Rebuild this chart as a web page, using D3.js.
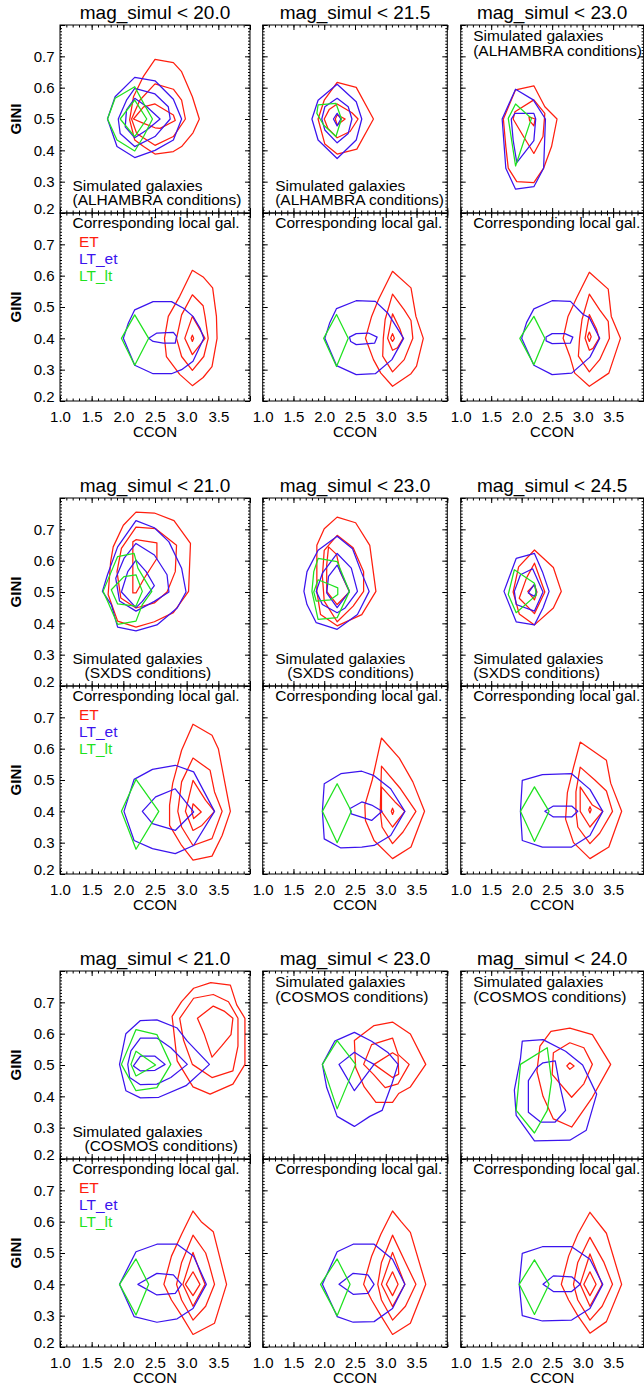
<!DOCTYPE html>
<html><head><meta charset="utf-8">
<script src="https://cdn.jsdelivr.net/npm/d3@7"></script>
<style>body{margin:0;background:#fff}</style>
</head><body><svg id="c" width="644" height="1388"></svg>
<script>
// ---------------- DATA ----------------
const classes = ["ET","LT_et","LT_lt"];
const xTickValues = [1.0,1.5,2.0,2.5,3.0,3.5,4.0];
const xTickLabels = ["1.0","1.5","2.0","2.5","3.0","3.5",""];
const yTickValues = [0.2,0.3,0.4,0.5,0.6,0.7,0.8];
const yTickLabels = ["0.2","0.3","0.4","0.5","0.6","0.7",""];
const surveys = ["ALHAMBRA","SXDS","COSMOS"];
const magLimits = [["20.0","21.5","23.0"],["21.0","23.0","24.5"],["21.0","23.0","24.0"]];

// ALHAMBRA, mag < 20.0
const alh20_sim_ET = [
 [[2.5,0.69],[2.79,0.68],[2.92,0.651],[3.09,0.571],[3.2,0.5],[3.1,0.456],[2.92,0.412],[2.79,0.396],[2.5,0.388],[2.32,0.412],[2.18,0.433],[2.1,0.497],[2.16,0.571],[2.32,0.637]],
 [[2.5,0.612],[2.79,0.595],[2.92,0.56],[2.98,0.5],[2.79,0.444],[2.5,0.416],[2.21,0.454],[2.13,0.5],[2.26,0.56]],
 [[2.5,0.548],[2.79,0.513],[2.82,0.495],[2.58,0.47],[2.5,0.472],[2.32,0.486],[2.16,0.5],[2.32,0.539]]];
const alh20_sim_LTet = [
 [[2.18,0.633],[2.5,0.622],[2.79,0.563],[2.92,0.5],[2.79,0.433],[2.5,0.4],[2.18,0.377],[1.9,0.412],[1.75,0.5],[1.87,0.571]],
 [[2.18,0.598],[2.5,0.58],[2.71,0.539],[2.74,0.5],[2.5,0.444],[2.18,0.412],[1.95,0.454],[1.92,0.5],[2.05,0.56]],
 [[2.18,0.566],[2.37,0.539],[2.58,0.5],[2.37,0.465],[2.18,0.44],[2.03,0.475],[2.05,0.529]]];
const alh20_sim_LTlt = [
 [[2.18,0.603],[2.32,0.55],[2.46,0.5],[2.32,0.444],[2.18,0.398],[1.9,0.433],[1.75,0.5],[1.87,0.566]],
 [[2.18,0.56],[2.37,0.5],[2.18,0.444],[1.95,0.5]]];
const alh20_loc_ET = [
 [[3.09,0.617],[3.26,0.596],[3.41,0.561],[3.47,0.47],[3.48,0.4],[3.4,0.31],[3.26,0.275],[3.09,0.249],[2.89,0.285],[2.68,0.342],[2.65,0.4],[2.71,0.47],[2.89,0.534]],
 [[3.09,0.539],[3.26,0.504],[3.29,0.47],[3.34,0.4],[3.27,0.342],[3.09,0.298],[2.92,0.342],[2.84,0.4],[2.92,0.475]],
 [[3.09,0.47],[3.29,0.4],[3.09,0.348],[2.97,0.4]],
 [[3.09,0.41],[3.11,0.4],[3.09,0.39],[3.07,0.4]]];
const alh20_loc_LTet = [
 [[2.18,0.491],[2.47,0.517],[2.76,0.517],[2.95,0.496],[3.1,0.47],[3.21,0.433],[3.27,0.4],[3.1,0.327],[2.92,0.3],[2.76,0.287],[2.47,0.287],[2.18,0.314],[2.0,0.4],[2.08,0.449]],
 [[2.4,0.4],[2.53,0.417],[2.79,0.419],[2.84,0.406],[2.82,0.385],[2.63,0.385],[2.47,0.39]]];
const alh20_loc_LTlt = [
 [[2.18,0.475],[2.4,0.4],[2.18,0.314],[1.97,0.4]]];

// ALHAMBRA, mag < 21.5
const alh215_sim_ET = [
 [[2.21,0.617],[2.52,0.601],[2.8,0.5],[2.53,0.404],[2.21,0.388],[2.01,0.42],[1.9,0.5],[2.0,0.56]],
 [[2.21,0.548],[2.45,0.52],[2.55,0.5],[2.42,0.46],[2.21,0.44],[2.06,0.47],[2.0,0.5],[2.08,0.53]],
 [[2.21,0.513],[2.34,0.5],[2.21,0.481],[2.18,0.5]]];
const alh215_sim_LTet = [
 [[2.21,0.611],[2.52,0.555],[2.61,0.5],[2.52,0.433],[2.21,0.374],[1.9,0.433],[1.8,0.5],[1.9,0.56]],
 [[2.21,0.566],[2.39,0.539],[2.45,0.5],[2.39,0.454],[2.21,0.424],[2.01,0.465],[1.96,0.5],[2.01,0.539]],
 [[2.21,0.518],[2.27,0.5],[2.21,0.478],[2.15,0.5]]];
const alh215_sim_LTlt = [
 [[1.9,0.545],[2.19,0.55],[2.28,0.5],[2.19,0.444],[1.99,0.481],[1.88,0.518]]];
const alh215_loc_ET = [
 [[3.11,0.614],[3.41,0.561],[3.49,0.47],[3.61,0.4],[3.5,0.311],[3.41,0.287],[3.11,0.247],[2.92,0.289],[2.8,0.332],[2.67,0.4],[2.77,0.47],[2.88,0.523]],
 [[3.11,0.541],[3.3,0.491],[3.41,0.457],[3.44,0.4],[3.3,0.332],[3.11,0.293],[2.95,0.343],[2.96,0.4],[2.99,0.46]],
 [[3.11,0.478],[3.23,0.43],[3.28,0.4],[3.19,0.37],[3.11,0.362],[3.03,0.4]],
 [[3.11,0.415],[3.14,0.4],[3.11,0.39],[3.08,0.4]]];
const alh215_loc_LTet = [
 [[2.2,0.495],[2.52,0.52],[2.83,0.518],[3.03,0.481],[3.29,0.4],[3.1,0.332],[2.83,0.287],[2.52,0.284],[2.2,0.313],[2.01,0.4],[2.09,0.45]],
 [[2.41,0.404],[2.52,0.415],[2.72,0.417],[2.86,0.404],[2.82,0.385],[2.52,0.38],[2.43,0.39]]];
const alh215_loc_LTlt = [
 [[2.2,0.476],[2.39,0.4],[2.2,0.31],[1.99,0.4]]];

// ALHAMBRA, mag < 23.0
const alh23_sim_ET = [
 [[1.9,0.593],[2.2,0.606],[2.38,0.539],[2.58,0.5],[2.49,0.412],[2.36,0.343],[2.2,0.297],[1.92,0.3],[1.78,0.343],[1.74,0.412],[1.7,0.5]],
 [[1.89,0.523],[2.2,0.561],[2.38,0.518],[2.35,0.444],[2.2,0.39],[2.03,0.444],[1.86,0.5]],
 [[2.12,0.507],[2.22,0.5],[2.2,0.478],[2.13,0.495]]];
const alh23_sim_LTet = [
 [[1.9,0.595],[2.19,0.561],[2.39,0.5],[2.36,0.343],[2.2,0.284],[1.9,0.276],[1.74,0.343],[1.68,0.5]],
 [[1.89,0.518],[2.2,0.518],[2.23,0.5],[2.2,0.431],[1.92,0.361],[1.86,0.433],[1.83,0.5]]];
const alh23_sim_LTlt = [
 [[1.9,0.548],[2.16,0.502],[1.9,0.35],[1.78,0.502]]];
const alh23_loc_ET = [
 [[3.11,0.611],[3.42,0.557],[3.47,0.47],[3.62,0.4],[3.43,0.289],[3.11,0.247],[2.87,0.289],[2.79,0.343],[2.68,0.4],[2.76,0.47],[2.9,0.529]],
 [[3.11,0.541],[3.28,0.491],[3.42,0.454],[3.44,0.4],[3.28,0.332],[3.11,0.293],[2.93,0.343],[2.95,0.4],[2.99,0.46]],
 [[3.11,0.476],[3.23,0.428],[3.27,0.4],[3.17,0.368],[3.11,0.362],[3.04,0.4]],
 [[3.11,0.42],[3.14,0.405],[3.11,0.39],[3.08,0.405]]];
const alh23_loc_LTet = [
 [[2.2,0.494],[2.5,0.52],[2.8,0.518],[3.01,0.476],[3.11,0.466],[3.28,0.4],[3.12,0.34],[2.82,0.289],[2.5,0.284],[2.2,0.314],[2.0,0.4],[2.08,0.45]],
 [[2.4,0.404],[2.5,0.415],[2.71,0.415],[2.84,0.404],[2.8,0.385],[2.5,0.383],[2.4,0.392]]];
const alh23_loc_LTlt = [
 [[2.2,0.47],[2.38,0.4],[2.2,0.316],[1.97,0.4]]];

// SXDS, mag < 21.0
const sx21_sim_ET = [
 [[2.2,0.755],[2.49,0.752],[2.8,0.728],[3.06,0.655],[3.03,0.502],[2.79,0.434],[2.49,0.405],[2.2,0.388],[1.91,0.407],[1.76,0.492],[1.8,0.597],[1.84,0.644],[2.0,0.713]],
 [[2.2,0.707],[2.51,0.702],[2.84,0.649],[2.82,0.565],[2.69,0.5],[2.49,0.465],[2.2,0.449],[1.96,0.481],[1.9,0.565],[1.97,0.639]],
 [[2.2,0.667],[2.53,0.657],[2.53,0.607],[2.33,0.544],[2.2,0.497],[2.15,0.497],[2.15,0.607],[2.15,0.66]]];
const sx21_sim_LTet = [
 [[2.2,0.728],[2.49,0.705],[2.72,0.66],[2.92,0.576],[2.99,0.5],[2.85,0.449],[2.53,0.395],[2.2,0.376],[1.91,0.388],[1.81,0.46],[1.67,0.502],[1.75,0.555],[1.91,0.644]],
 [[2.2,0.655],[2.49,0.618],[2.69,0.555],[2.72,0.5],[2.49,0.47],[2.2,0.439],[1.94,0.471],[1.88,0.544],[2.01,0.607]],
 [[2.2,0.602],[2.36,0.565],[2.49,0.52],[2.3,0.47],[2.2,0.45],[1.97,0.5],[2.07,0.565]]];
const sx21_sim_LTlt = [
 [[1.91,0.613],[2.17,0.623],[2.23,0.576],[2.45,0.502],[2.3,0.46],[2.2,0.407],[1.91,0.397],[1.75,0.471],[1.68,0.502],[1.81,0.565]],
 [[2.01,0.549],[2.2,0.555],[2.3,0.502],[2.2,0.455],[1.91,0.462],[1.81,0.507]]];
const sx21_loc_ET = [
 [[3.1,0.678],[3.4,0.643],[3.5,0.6],[3.69,0.4],[3.56,0.323],[3.4,0.257],[3.1,0.244],[2.92,0.291],[2.73,0.355],[2.73,0.42],[2.78,0.49],[2.92,0.595]],
 [[3.1,0.57],[3.37,0.531],[3.44,0.462],[3.56,0.4],[3.4,0.313],[3.1,0.291],[2.92,0.35],[2.86,0.4],[2.92,0.494]],
 [[3.1,0.499],[3.3,0.435],[3.44,0.4],[3.24,0.355],[3.1,0.339],[2.98,0.4]],
 [[3.1,0.424],[3.23,0.398],[3.11,0.377],[3.08,0.4]]];
const sx21_loc_LTet = [
 [[2.17,0.502],[2.46,0.534],[2.82,0.547],[3.11,0.526],[3.44,0.4],[3.11,0.291],[2.82,0.265],[2.46,0.281],[2.17,0.307],[2.01,0.4]],
 [[2.3,0.4],[2.51,0.446],[2.82,0.472],[3.11,0.398],[2.82,0.339],[2.46,0.361]]];
const sx21_loc_LTlt = [
 [[2.2,0.502],[2.56,0.4],[2.2,0.279],[1.97,0.4]]];

// SXDS, mag < 23.0
const sx23_sim_ET = [
 [[2.21,0.739],[2.51,0.721],[2.74,0.649],[2.84,0.502],[2.61,0.428],[2.21,0.392],[1.94,0.428],[1.88,0.502],[1.88,0.649],[2.0,0.702]],
 [[2.21,0.681],[2.47,0.641],[2.64,0.565],[2.64,0.502],[2.47,0.455],[2.21,0.405],[2.0,0.471],[1.97,0.55],[2.0,0.633]],
 [[2.07,0.644],[2.2,0.62],[2.26,0.565],[2.41,0.5],[2.21,0.46],[2.04,0.502],[2.04,0.586]]];
const sx23_sim_LTet = [
 [[2.21,0.678],[2.46,0.638],[2.6,0.565],[2.73,0.502],[2.54,0.428],[2.21,0.381],[1.87,0.402],[1.72,0.46],[1.67,0.502],[1.72,0.565],[1.9,0.633]],
 [[2.21,0.623],[2.44,0.576],[2.54,0.502],[2.34,0.449],[2.21,0.434],[1.97,0.46],[1.87,0.502],[1.97,0.56]],
 [[2.21,0.586],[2.41,0.502],[2.21,0.45],[2.04,0.497],[2.07,0.55]]];
const sx23_sim_LTlt = [
 [[1.9,0.607],[2.21,0.597],[2.41,0.502],[2.21,0.418],[1.9,0.413],[1.8,0.502],[1.83,0.565]],
 [[1.9,0.539],[2.1,0.523],[2.22,0.513],[2.22,0.492],[2.1,0.475],[1.87,0.471],[1.83,0.5]]];
const sx23_loc_ET = [
 [[2.93,0.634],[3.22,0.57],[3.44,0.494],[3.63,0.4],[3.41,0.286],[3.11,0.249],[2.81,0.307],[2.67,0.371],[2.66,0.42],[2.78,0.5]],
 [[2.93,0.544],[3.24,0.472],[3.49,0.4],[3.28,0.334],[3.11,0.297],[2.94,0.35],[2.91,0.4]],
 [[2.93,0.478],[3.15,0.43],[3.31,0.4],[3.11,0.35],[2.93,0.4]],
 [[3.11,0.41],[3.13,0.4],[3.11,0.39],[3.09,0.4]]];
const sx23_loc_LTet = [
 [[2.0,0.488],[2.27,0.52],[2.61,0.528],[2.8,0.515],[3.08,0.472],[3.31,0.4],[3.08,0.323],[2.81,0.291],[2.61,0.286],[2.27,0.283],[2.0,0.312],[1.97,0.4]],
 [[2.42,0.409],[2.61,0.43],[2.77,0.42],[2.94,0.4],[2.77,0.371],[2.44,0.392]]];
const sx23_loc_LTlt = [
 [[2.21,0.488],[2.44,0.4],[2.21,0.3],[1.97,0.4]]];

// SXDS, mag < 24.5
const sx245_sim_ET = [
 [[2.21,0.634],[2.52,0.578],[2.65,0.502],[2.52,0.449],[2.21,0.395],[1.96,0.43],[1.86,0.5],[1.95,0.58]],
 [[2.21,0.592],[2.38,0.5],[2.21,0.431],[1.96,0.48],[2.08,0.545]],
 [[2.1,0.502],[2.21,0.523],[2.25,0.5],[2.21,0.475]]];
const sx245_sim_LTet = [
 [[1.91,0.607],[2.21,0.623],[2.34,0.565],[2.45,0.502],[2.35,0.449],[2.21,0.395],[1.91,0.405],[1.71,0.502]],
 [[2.18,0.574],[2.35,0.5],[2.21,0.439],[1.91,0.46],[1.88,0.502],[1.98,0.555]],
 [[2.21,0.525],[2.24,0.5],[2.21,0.486],[2.11,0.497]]];
const sx245_sim_LTlt = [
 [[1.88,0.571],[2.21,0.528],[2.24,0.49],[1.91,0.434],[1.78,0.492]]];
const sx245_loc_ET = [
 [[2.96,0.621],[3.39,0.563],[3.46,0.49],[3.64,0.4],[3.43,0.286],[3.12,0.249],[2.85,0.3],[2.72,0.375],[2.75,0.46],[2.85,0.54]],
 [[2.96,0.541],[3.2,0.5],[3.39,0.465],[3.49,0.4],[3.28,0.33],[3.12,0.297],[2.92,0.35],[2.89,0.4],[2.89,0.462]],
 [[2.96,0.478],[3.16,0.42],[3.33,0.4],[3.12,0.35],[2.96,0.4]],
 [[3.12,0.415],[3.14,0.405],[3.12,0.395],[3.1,0.405]]];
const sx245_loc_LTet = [
 [[2.01,0.499],[2.34,0.517],[2.82,0.52],[3.12,0.47],[3.33,0.4],[3.12,0.323],[2.82,0.286],[2.34,0.286],[2.01,0.307],[1.98,0.4]],
 [[2.38,0.4],[2.52,0.417],[2.82,0.417],[2.92,0.4],[2.82,0.382],[2.52,0.382]]];
const sx245_loc_LTlt = [
 [[2.21,0.478],[2.45,0.4],[2.21,0.304],[1.98,0.4]]];

// COSMOS, mag < 21.0
const co21_sim_ET = [
 [[3.11,0.745],[3.38,0.763],[3.69,0.755],[3.79,0.692],[3.92,0.649],[3.92,0.502],[3.73,0.439],[3.37,0.407],[3.1,0.43],[2.85,0.513],[2.77,0.655],[2.92,0.702]],
 [[3.11,0.713],[3.42,0.725],[3.66,0.702],[3.81,0.649],[3.81,0.56],[3.73,0.481],[3.4,0.46],[3.09,0.502],[2.95,0.58],[2.89,0.649]],
 [[3.17,0.649],[3.42,0.688],[3.6,0.671],[3.73,0.649],[3.7,0.597],[3.55,0.56],[3.4,0.525],[3.28,0.597]]];
const co21_sim_LTet = [
 [[2.27,0.642],[2.53,0.644],[2.85,0.618],[3.01,0.576],[3.36,0.502],[2.99,0.434],[2.56,0.397],[2.27,0.395],[2.04,0.418],[1.94,0.502],[2.04,0.6]],
 [[2.27,0.586],[2.53,0.586],[2.75,0.555],[3.01,0.502],[2.75,0.46],[2.53,0.439],[2.27,0.437],[2.1,0.46],[2.07,0.502],[2.12,0.545]],
 [[2.27,0.528],[2.5,0.528],[2.66,0.502],[2.5,0.483],[2.27,0.481],[2.16,0.497]]];
const co21_sim_LTlt = [
 [[2.2,0.613],[2.53,0.597],[2.75,0.502],[2.53,0.428],[2.2,0.418],[1.97,0.502]],
 [[2.2,0.544],[2.51,0.5],[2.2,0.465],[2.12,0.502]]];
const co21_loc_ET = [
 [[3.1,0.634],[3.23,0.6],[3.42,0.568],[3.63,0.4],[3.44,0.276],[3.1,0.24],[2.92,0.3],[2.76,0.35],[2.64,0.4],[2.76,0.49],[2.92,0.56]],
 [[3.1,0.557],[3.3,0.5],[3.35,0.467],[3.44,0.4],[3.3,0.33],[3.1,0.286],[2.92,0.35],[2.84,0.4],[2.92,0.47]],
 [[3.1,0.502],[3.21,0.44],[3.29,0.4],[3.1,0.33],[2.94,0.4]],
 [[3.1,0.44],[3.21,0.4],[3.1,0.364],[2.98,0.4]]];
const co21_loc_LTet = [
 [[2.2,0.504],[2.53,0.528],[2.85,0.528],[3.11,0.49],[3.31,0.4],[3.1,0.323],[2.85,0.29],[2.53,0.279],[2.17,0.297],[1.94,0.4]],
 [[2.23,0.4],[2.53,0.435],[2.79,0.43],[2.92,0.4],[2.82,0.371],[2.53,0.366]]];
const co21_loc_LTlt = [
 [[2.2,0.481],[2.4,0.4],[2.2,0.302],[1.94,0.4]]];

// COSMOS, mag < 23.0
const co23_sim_ET = [
 [[2.49,0.578],[2.81,0.626],[3.11,0.637],[3.4,0.599],[3.65,0.502],[3.4,0.43],[3.21,0.409],[3.11,0.381],[2.84,0.381],[2.65,0.43],[2.51,0.492]],
 [[2.77,0.565],[3.11,0.586],[3.2,0.534],[3.38,0.502],[3.2,0.44],[2.99,0.428],[2.8,0.47],[2.64,0.502]],
 [[2.81,0.502],[3.11,0.539],[3.2,0.528],[3.21,0.471],[3.11,0.46]]];
const co23_sim_LTet = [
 [[2.49,0.604],[2.77,0.576],[3.04,0.539],[3.2,0.502],[3.1,0.44],[2.94,0.355],[2.74,0.336],[2.49,0.304],[2.21,0.336],[2.04,0.428],[1.97,0.502],[2.17,0.576]],
 [[2.49,0.541],[2.71,0.513],[2.81,0.502],[2.49,0.418],[2.24,0.502]]];
const co23_sim_LTlt = [
 [[2.21,0.578],[2.51,0.502],[2.21,0.36],[1.97,0.502]]];
const co23_loc_ET = [
 [[3.11,0.634],[3.25,0.6],[3.4,0.566],[3.65,0.4],[3.4,0.276],[3.11,0.24],[2.92,0.3],[2.77,0.35],[2.64,0.4],[2.77,0.49],[2.92,0.56]],
 [[3.11,0.557],[3.32,0.47],[3.49,0.4],[3.32,0.33],[3.11,0.286],[2.93,0.35],[2.87,0.4],[2.93,0.47]],
 [[3.11,0.502],[3.31,0.4],[3.11,0.329],[2.93,0.4]],
 [[3.11,0.44],[3.2,0.4],[3.11,0.364],[3.01,0.4]]];
const co23_loc_LTet = [
 [[2.21,0.504],[2.47,0.528],[2.81,0.528],[3.11,0.48],[3.31,0.4],[3.11,0.323],[2.81,0.281],[2.47,0.279],[2.21,0.297],[1.97,0.4]],
 [[2.24,0.4],[2.47,0.435],[2.71,0.43],[2.81,0.4],[2.71,0.371],[2.47,0.368]]];
const co23_loc_LTlt = [
 [[2.21,0.481],[2.42,0.4],[2.21,0.3],[1.94,0.4]]];

// COSMOS, mag < 24.0
const co24_sim_ET = [
 [[2.48,0.607],[2.79,0.618],[3.16,0.597],[3.46,0.502],[3.16,0.397],[2.82,0.302],[2.52,0.328],[2.35,0.4],[2.25,0.48],[2.3,0.56]],
 [[2.52,0.539],[2.79,0.571],[3.02,0.555],[3.16,0.502],[3.02,0.44],[2.82,0.397],[2.5,0.47]],
 [[2.79,0.507],[2.86,0.497],[2.79,0.486],[2.74,0.497]]];
const co24_sim_LTet = [
 [[2.01,0.576],[2.35,0.581],[2.72,0.544],[3.0,0.5],[3.23,0.407],[3.06,0.292],[2.79,0.26],[2.21,0.258],[1.91,0.339],[1.88,0.42],[1.98,0.52]],
 [[2.25,0.492],[2.35,0.507],[2.55,0.513],[2.62,0.44],[2.72,0.355],[2.55,0.318],[2.31,0.318],[2.11,0.349],[2.11,0.45]]];
const co24_sim_LTlt = [
 [[2.42,0.555],[2.49,0.45],[2.42,0.355],[2.21,0.283],[1.91,0.355],[1.98,0.502]]];
const co24_loc_ET = [
 [[3.12,0.63],[3.39,0.563],[3.64,0.4],[3.39,0.281],[3.12,0.244],[2.92,0.3],[2.77,0.35],[2.65,0.4],[2.77,0.49],[2.92,0.56]],
 [[3.12,0.55],[3.35,0.47],[3.49,0.4],[3.32,0.33],[3.12,0.286],[2.92,0.35],[2.85,0.4],[2.92,0.47]],
 [[3.12,0.497],[3.32,0.4],[3.12,0.33],[2.96,0.4]],
 [[3.12,0.44],[3.22,0.4],[3.12,0.364],[3.02,0.4]]];
const co24_loc_LTet = [
 [[2.01,0.499],[2.34,0.52],[2.82,0.52],[3.12,0.48],[3.33,0.4],[3.12,0.323],[2.82,0.286],[2.34,0.283],[2.01,0.3],[1.96,0.4]],
 [[2.35,0.4],[2.52,0.427],[2.82,0.424],[2.96,0.4],[2.82,0.377],[2.52,0.377]]];
const co24_loc_LTlt = [
 [[2.21,0.478],[2.45,0.4],[2.21,0.304],[1.96,0.4]]];

const simSets = [
 [[alh20_sim_ET,alh20_sim_LTet,alh20_sim_LTlt],[alh215_sim_ET,alh215_sim_LTet,alh215_sim_LTlt],[alh23_sim_ET,alh23_sim_LTet,alh23_sim_LTlt]],
 [[sx21_sim_ET,sx21_sim_LTet,sx21_sim_LTlt],[sx23_sim_ET,sx23_sim_LTet,sx23_sim_LTlt],[sx245_sim_ET,sx245_sim_LTet,sx245_sim_LTlt]],
 [[co21_sim_ET,co21_sim_LTet,co21_sim_LTlt],[co23_sim_ET,co23_sim_LTet,co23_sim_LTlt],[co24_sim_ET,co24_sim_LTet,co24_sim_LTlt]]];
const locSets = [
 [[alh20_loc_ET,alh20_loc_LTet,alh20_loc_LTlt],[alh215_loc_ET,alh215_loc_LTet,alh215_loc_LTlt],[alh23_loc_ET,alh23_loc_LTet,alh23_loc_LTlt]],
 [[sx21_loc_ET,sx21_loc_LTet,sx21_loc_LTlt],[sx23_loc_ET,sx23_loc_LTet,sx23_loc_LTlt],[sx245_loc_ET,sx245_loc_LTet,sx245_loc_LTlt]],
 [[co21_loc_ET,co21_loc_LTet,co21_loc_LTlt],[co23_loc_ET,co23_loc_LTet,co23_loc_LTlt],[co24_loc_ET,co24_loc_LTet,co24_loc_LTlt]]];

// ---------------- LAYOUT / STYLE ----------------
const simTextPos = [["bottom","bottom","top"],["bottom","bottom","bottom"],["bottom","top","top"]];
const simIndent = [[0,0,0],[12,12,0],[12,0,0]];
const colX = [[60,250],[262.7,447.3],[460.7,643.6]];
const groupTop = [25,498,971];
const PH = 188;
const FONT = "'Liberation Sans', Arial, Helvetica, sans-serif";
const COLORS = ["#ff1e0e","#3b14ee","#1fe21f"];

const svg = d3.select("#c");
const xMinor = d3.range(10,41).map(i=>i/10);
const yMinor = d3.range(20,81).map(i=>i/100);

function txt(g, x, y, s, size, extra) {
  const t = g.append("text").attr("x",x).attr("y",y).text(s)
    .attr("font-family",FONT).attr("font-size",size).attr("fill","#000");
  if (extra) extra(t);
  return t;
}

function drawPanel(x0, x1, y0, sets, showXLabels, showYLabels) {
  const y1 = y0 + PH;
  const x = d3.scaleLinear().domain([1,4]).range([x0,x1]);
  const y = d3.scaleLinear().domain([0.2,0.8]).range([y1,y0]);
  const g = svg.append("g");
  const line = d3.line().x(d=>x(d[0])).y(d=>y(d[1])).curve(d3.curveLinearClosed);
  sets.forEach((rings,ci) => {
    g.selectAll(null).data(rings).join("path")
      .attr("d", line).attr("fill","none")
      .attr("stroke", COLORS[ci]).attr("stroke-width",1.25).attr("stroke-linejoin","round");
  });
  const mk = (axis, tr) => {
    const a = g.append("g").attr("transform",tr).call(axis);
    a.select(".domain").remove();
    a.selectAll(".tick line").attr("stroke","#000");
    a.attr("font-family",FONT).attr("font-size",15);
    a.selectAll(".tick text").attr("fill","#000");
    return a;
  };
  mk(d3.axisBottom(x).tickValues(xMinor).tickSize(-2.5).tickFormat(""), `translate(0,${y1})`);
  mk(d3.axisTop(x).tickValues(xMinor).tickSize(-2.5).tickFormat(""), `translate(0,${y0})`);
  mk(d3.axisLeft(y).tickValues(yMinor).tickSize(-2).tickFormat(""), `translate(${x0},0)`);
  mk(d3.axisRight(y).tickValues(yMinor).tickSize(-2).tickFormat(""), `translate(${x1},0)`);
  mk(d3.axisBottom(x).tickValues(xTickValues).tickSize(-5).tickPadding(10)
      .tickFormat((d,i)=> showXLabels ? xTickLabels[i] : ""), `translate(0,${y1})`);
  mk(d3.axisTop(x).tickValues(xTickValues).tickSize(-5).tickFormat(""), `translate(0,${y0})`);
  const ya = mk(d3.axisLeft(y).tickValues(yTickValues).tickSize(-5).tickPadding(5.5)
      .tickFormat((d,i)=> showYLabels ? yTickLabels[i] : ""), `translate(${x0},0)`);
  ya.selectAll(".tick text").filter(d=>d<0.25).attr("transform","translate(0,-4.5)");
  mk(d3.axisRight(y).tickValues(yTickValues).tickSize(-5).tickFormat(""), `translate(${x1},0)`);
  g.append("rect").attr("x",x0).attr("y",y0).attr("width",x1-x0).attr("height",PH)
    .attr("fill","none").attr("stroke","#000").attr("stroke-width",1);
  return g;
}

for (let gi=0; gi<3; gi++) {
  const gt = groupTop[gi];
  for (let ci=0; ci<3; ci++) {
    const [x0,x1] = colX[ci];
    // title
    txt(svg,(x0+x1)/2, gt-6.5, "mag_simul < " + magLimits[gi][ci], 19, t=>t.attr("text-anchor","middle"));
    // simulated panel
    const gs = drawPanel(x0,x1,gt,simSets[gi][ci],false,ci===0);
    const line2 = "(" + surveys[gi] + " conditions)";
    if (simTextPos[gi][ci]==="bottom") {
      txt(gs, x0+12.5, gt+165.5, "Simulated galaxies", 15.5);
      txt(gs, x0+12.5+simIndent[gi][ci], gt+179.5, line2, 15.5);
    } else {
      txt(gs, x0+12.5, gt+16, "Simulated galaxies", 15.5);
      txt(gs, x0+12.5, gt+30.5, line2, 15.5);
    }
    // local panel
    const gl = drawPanel(x0,x1,gt+PH,locSets[gi][ci],true,ci===0);
    txt(gl, x0+12.5, gt+PH+15, "Corresponding local gal.", 15.5);
    if (ci===0) {
      ["ET","LT_et","LT_lt"].forEach((lab,k)=>{
        txt(gl, x0+19, gt+PH+34+k*17, classes[k], 15.5, t=>t.attr("fill",COLORS[k]));
      });
      // GINI labels
      [gt+PH/2, gt+PH+PH/2].forEach(cy=>{
        txt(svg,0,0,"GINI",15,t=>t.attr("text-anchor","middle").attr("font-weight","bold")
          .attr("transform",`translate(21,${cy}) rotate(-90)`));
      });
    }
    // CCON
    txt(svg,(x0+x1)/2, gt+2*PH+36, "CCON", 15, t=>t.attr("text-anchor","middle"));
  }
}
</script>
</body></html>
